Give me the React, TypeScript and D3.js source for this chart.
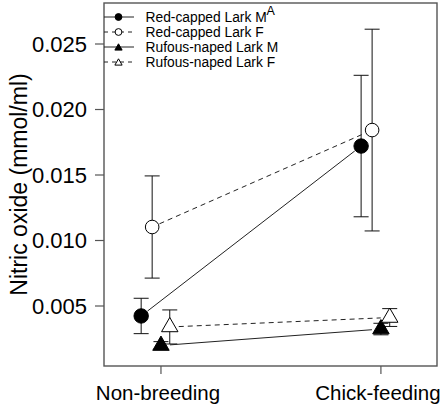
import React from "react";
import * as d3 from "d3";

// Nitric oxide (mmol/ml), mean and SE per season for each species/sex group
const categories = ["Non-breeding", "Chick-feeding"];
const seriesNames = [
  "Red-capped Lark M",
  "Red-capped Lark F",
  "Rufous-naped Lark M",
  "Rufous-naped Lark F",
];
const redCappedM = [0.00424, 0.01721];
const redCappedF = [0.01103, 0.01843];
const rufousNapedM = [0.00198, 0.00324];
const rufousNapedF = [0.0034, 0.00412];
const redCappedMSe = [0.00135, 0.0054];
const redCappedFSe = [0.0039, 0.0077];
const rufousNapedMSe = [0.0003, 0.00044];
const rufousNapedFSe = [0.0013, 0.00068];
const yTicks = [0.005, 0.01, 0.015, 0.02, 0.025];
const panelLabel = "A";

const W = 447;
const H = 410;
const box = { left: 104, right: 437, top: 3, bottom: 366 };
const FONT = "'Liberation Sans', Arial, Helvetica, sans-serif";

type Shape = "circle" | "triangle";
type Series = {
  name: string;
  means: number[];
  se: number[];
  shape: Shape;
  filled: boolean;
  dashed: boolean;
  dodge: number;
};

const series: Series[] = [
  { name: seriesNames[0], means: redCappedM, se: redCappedMSe, shape: "circle", filled: true, dashed: false, dodge: -0.09 },
  { name: seriesNames[1], means: redCappedF, se: redCappedFSe, shape: "circle", filled: false, dashed: true, dodge: -0.04 },
  { name: seriesNames[2], means: rufousNapedM, se: rufousNapedMSe, shape: "triangle", filled: true, dashed: false, dodge: 0 },
  { name: seriesNames[3], means: rufousNapedF, se: rufousNapedFSe, shape: "triangle", filled: false, dashed: true, dodge: 0.04 },
];

const x = d3.scaleLinear().domain([0.741, 2.255]).range([box.left, box.right]);
const y = d3.scaleLinear().domain([0.00042, 0.02813]).range([box.bottom, box.top]);

// R-style triangle (pch 2 / 17): apex r above centre, base r/2 below
function trianglePath(cx: number, cy: number, r: number) {
  const hw = (Math.sqrt(3) / 2) * r;
  return `M${cx},${cy - r}L${cx + hw},${cy + r / 2}L${cx - hw},${cy + r / 2}Z`;
}

function Marker({ s, cx, cy, small }: { s: Series; cx: number; cy: number; small?: boolean }) {
  const fill = s.filled ? "#000" : "#fff";
  if (s.shape === "circle") {
    const r = small ? 3.4 : s.filled ? 7.2 : 6.8;
    return <circle cx={cx} cy={cy} r={r} fill={fill} stroke="#000" strokeWidth={1} />;
  }
  const r = small ? 4.2 : 9.5;
  return <path d={trianglePath(cx, cy, r)} fill={fill} stroke="#000" strokeWidth={1} strokeLinejoin="miter" />;
}

function gappedSegment(x1: number, y1: number, x2: number, y2: number, gap: number) {
  const dx = x2 - x1;
  const dy = y2 - y1;
  const len = Math.hypot(dx, dy);
  const ux = dx / len;
  const uy = dy / len;
  return {
    x1: x1 + ux * gap,
    y1: y1 + uy * gap,
    x2: x2 - ux * gap,
    y2: y2 - uy * gap,
  };
}

export default function App() {
  const cap = 7.5;
  const legendRows = [17, 32, 47, 62];
  return (
    <svg
      width={W}
      height={H}
      style={{ position: "absolute", left: 0, top: 0, background: "#fff" }}
      fontFamily={FONT}
    >
      <rect x={0} y={0} width={W} height={H} fill="#fff" />

      {/* error bars */}
      {series.map((s, si) =>
        s.means.map((m, i) => {
          const cx = x(i + 1 + s.dodge);
          const yt = y(m + s.se[i]);
          const yb = y(m - s.se[i]);
          return (
            <g key={`eb-${si}-${i}`} stroke="#111" strokeWidth={1}>
              <line x1={cx} x2={cx} y1={yt} y2={yb} />
              <line x1={cx - cap} x2={cx + cap} y1={yt} y2={yt} />
              <line x1={cx - cap} x2={cx + cap} y1={yb} y2={yb} />
            </g>
          );
        })
      )}

      {/* connecting lines, broken around the points */}
      {series.map((s, si) => {
        const seg = gappedSegment(
          x(1 + s.dodge),
          y(s.means[0]),
          x(2 + s.dodge),
          y(s.means[1]),
          s.shape === "circle" ? 8 : 9
        );
        return (
          <line
            key={`ln-${si}`}
            {...seg}
            stroke="#222"
            strokeWidth={1}
            strokeDasharray={s.dashed ? "5,4" : undefined}
          />
        );
      })}

      {/* points */}
      {series.map((s, si) =>
        s.means.map((m, i) => (
          <Marker key={`pt-${si}-${i}`} s={s} cx={x(i + 1 + s.dodge)} cy={y(m)} />
        ))
      )}

      {/* plot frame */}
      <rect
        x={box.left}
        y={box.top}
        width={box.right - box.left}
        height={box.bottom - box.top}
        fill="none"
        stroke="#555"
        strokeWidth={1.4}
      />

      {/* y axis */}
      {yTicks.map((t) => (
        <g key={`yt-${t}`}>
          <line x1={box.left - 9} x2={box.left} y1={y(t)} y2={y(t)} stroke="#555" strokeWidth={1.2} />
          <text x={87} y={y(t) + 7.9} fontSize={22} textAnchor="end" fill="#000">
            {d3.format(".3f")(t)}
          </text>
        </g>
      ))}
      <text
        transform={`translate(27,${(box.top + box.bottom) / 2}) rotate(-90)`}
        fontSize={23}
        textAnchor="middle"
        fill="#000"
      >
        Nitric oxide (mmol/ml)
      </text>

      {/* x axis */}
      {categories.map((c, i) => (
        <g key={`xt-${c}`}>
          <line x1={x(i + 1)} x2={x(i + 1)} y1={box.bottom} y2={box.bottom + 8} stroke="#555" strokeWidth={1.2} />
          <text x={x(i + 1) - 3} y={400} fontSize={20.5} textAnchor="middle" fill="#000">
            {c}
          </text>
        </g>
      ))}

      {/* legend */}
      {series.map((s, si) => (
        <g key={`lg-${si}`}>
          <line
            x1={104}
            x2={134}
            y1={legendRows[si]}
            y2={legendRows[si]}
            stroke="#222"
            strokeWidth={1}
            strokeDasharray={s.dashed ? "4,4" : undefined}
          />
          <Marker s={s} cx={118.5} cy={legendRows[si] + (s.shape === "triangle" ? 1 : 0)} small />
          <text x={145.5} y={legendRows[si] + 5} fontSize={13.8} fill="#000">
            {s.name}
          </text>
        </g>
      ))}
      <text x={266.5} y={15} fontSize={12.5} fill="#000">
        {panelLabel}
      </text>
    </svg>
  );
}
